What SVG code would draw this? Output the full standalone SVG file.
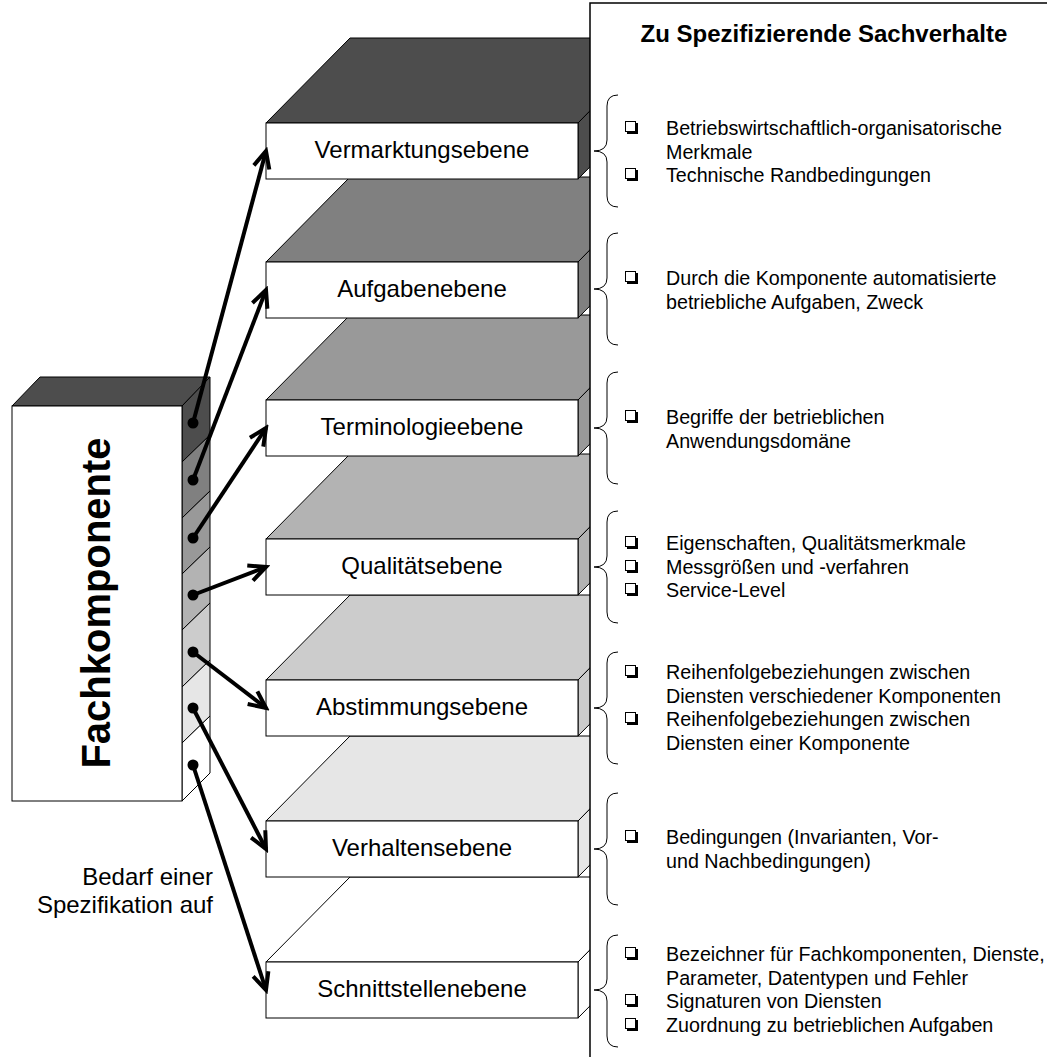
<svg xmlns="http://www.w3.org/2000/svg" xmlns:xlink="http://www.w3.org/1999/xlink" width="1047" height="1057" viewBox="0 0 1047 1057">
<style>
.o{stroke:#000;stroke-width:1;stroke-linejoin:miter}
.lbl{font-family:"Liberation Sans",Arial,sans-serif;font-size:24px;fill:#000;text-anchor:middle}
.t{font-family:"Liberation Sans",Arial,sans-serif;font-size:19.7px;fill:#000}
.ttl{font-family:"Liberation Sans",Arial,sans-serif;font-size:24px;font-weight:bold;fill:#000;text-anchor:middle}
.br{fill:none;stroke:#000;stroke-width:1}
.ar{fill:none;stroke:#000;stroke-width:4}
</style>
<defs>
<marker id="ah" markerUnits="userSpaceOnUse" markerWidth="24" markerHeight="24" viewBox="0 0 24 24" refX="20" refY="12" orient="auto">
<path d="M3,4 L20,12 L3,20" fill="none" stroke="#000" stroke-width="4" stroke-linejoin="miter"/>
</marker>
<g id="cb"><rect x="0.5" y="0.5" width="10" height="10" fill="#fff" stroke="#000" stroke-width="1"/><path d="M2,12 H12 V2" fill="none" stroke="#000" stroke-width="2"/></g>
</defs>
<rect width="1047" height="1057" fill="#fff"/>

<g id="layer7">
<polygon class="o" fill="#fff" points="266,962 350,877 662,877 578,962"/>
<polygon class="o" fill="#fff" points="578,962 662,877 662,933 578,1018"/>
<rect class="o" fill="#fff" x="266" y="962" width="312" height="56"/>
<text class="lbl" x="422" y="997">Schnittstellenebene</text>
</g>
<g id="layer6">
<polygon class="o" fill="#e6e6e6" points="266,821 350,736 662,736 578,821"/>
<polygon class="o" fill="#e6e6e6" points="578,821 662,736 662,792 578,877"/>
<rect class="o" fill="#fff" x="266" y="821" width="312" height="56"/>
<text class="lbl" x="422" y="856">Verhaltensebene</text>
</g>
<g id="layer5">
<polygon class="o" fill="#ccc" points="266,680 350,595 662,595 578,680"/>
<polygon class="o" fill="#ccc" points="578,680 662,595 662,651 578,736"/>
<rect class="o" fill="#fff" x="266" y="680" width="312" height="56"/>
<text class="lbl" x="422" y="715">Abstimmungsebene</text>
</g>
<g id="layer4">
<polygon class="o" fill="#b3b3b3" points="266,539 350,454 662,454 578,539"/>
<polygon class="o" fill="#b3b3b3" points="578,539 662,454 662,510 578,595"/>
<rect class="o" fill="#fff" x="266" y="539" width="312" height="56"/>
<text class="lbl" x="422" y="574">Qualitätsebene</text>
</g>
<g id="layer3">
<polygon class="o" fill="#999" points="266,400 350,315 662,315 578,400"/>
<polygon class="o" fill="#999" points="578,400 662,315 662,371 578,456"/>
<rect class="o" fill="#fff" x="266" y="400" width="312" height="56"/>
<text class="lbl" x="422" y="435">Terminologieebene</text>
</g>
<g id="layer2">
<polygon class="o" fill="#808080" points="266,262 350,177 662,177 578,262"/>
<polygon class="o" fill="#808080" points="578,262 662,177 662,233 578,318"/>
<rect class="o" fill="#fff" x="266" y="262" width="312" height="56"/>
<text class="lbl" x="422" y="297">Aufgabenebene</text>
</g>
<g id="layer1">
<polygon class="o" fill="#4d4d4d" points="266,123 350,38 662,38 578,123"/>
<polygon class="o" fill="#4d4d4d" points="578,123 662,38 662,94 578,179"/>
<rect class="o" fill="#fff" x="266" y="123" width="312" height="56"/>
<text class="lbl" x="422" y="158">Vermarktungsebene</text>
</g>

<g id="fachkomponente">
<polygon class="o" fill="#4d4d4d" points="12,406 40,377 210,377 182,406"/>
<polygon class="o" fill="#4d4d4d" points="182,406 210,377 210,435 182,462"/>
<polygon class="o" fill="#808080" points="182,462 210,435 210,491 182,518"/>
<polygon class="o" fill="#999" points="182,518 210,491 210,547 182,574"/>
<polygon class="o" fill="#b3b3b3" points="182,574 210,547 210,603 182,630"/>
<polygon class="o" fill="#ccc" points="182,630 210,603 210,660 182,687"/>
<polygon class="o" fill="#e6e6e6" points="182,687 210,660 210,716 182,743"/>
<polygon class="o" fill="#fff" points="182,743 210,716 210,773 182,801"/>
<rect class="o" fill="#fff" x="12" y="406" width="170" height="395"/>
<text transform="translate(110,603) rotate(-90)" style="font-family:'Liberation Sans',Arial,sans-serif;font-size:40px;font-weight:bold;text-anchor:middle">Fachkomponente</text>
</g>

<g id="caption">
<text class="t" x="213" y="885" style="font-size:24px;text-anchor:end">Bedarf einer</text>
<text class="t" x="213" y="913" style="font-size:24px;text-anchor:end">Spezifikation auf</text>
</g>

<g id="connectors">
<line class="ar" x1="193" y1="423" x2="266" y2="151" marker-end="url(#ah)"/>
<line class="ar" x1="193" y1="480" x2="266" y2="290" marker-end="url(#ah)"/>
<line class="ar" x1="193" y1="538" x2="266" y2="428" marker-end="url(#ah)"/>
<line class="ar" x1="193" y1="595" x2="266" y2="567" marker-end="url(#ah)"/>
<line class="ar" x1="193" y1="652" x2="266" y2="708" marker-end="url(#ah)"/>
<line class="ar" x1="193" y1="708" x2="266" y2="849" marker-end="url(#ah)"/>
<line class="ar" x1="193" y1="765" x2="266" y2="990" marker-end="url(#ah)"/>
<g fill="#000">
<circle cx="193" cy="423" r="5.5"/>
<circle cx="193" cy="480" r="5.5"/>
<circle cx="193" cy="538" r="5.5"/>
<circle cx="193" cy="595" r="5.5"/>
<circle cx="193" cy="652" r="5.5"/>
<circle cx="193" cy="708" r="5.5"/>
<circle cx="193" cy="765" r="5.5"/>
</g>
</g>

<g id="panel">
<rect x="590" y="3" width="520" height="1100" fill="#fff" stroke="#000" stroke-width="1.5"/>
<text class="ttl" x="824" y="42">Zu Spezifizierende Sachverhalte</text>
</g>

<g id="group1">
<path class="br" d="M618,95 Q607,95 607,106 L607,140 Q607,151 594,151 Q607,151 607,162 L607,196 Q607,207 618,207"/>
<use xlink:href="#cb" x="625" y="121"/>
<text class="t" x="666" y="135">Betriebswirtschaftlich-organisatorische</text>
<text class="t" x="666" y="158.5">Merkmale</text>
<use xlink:href="#cb" x="625" y="168"/>
<text class="t" x="666" y="182">Technische Randbedingungen</text>
</g>
<g id="group2">
<path class="br" d="M618,233 Q607,233 607,244 L607,278 Q607,289 594,289 Q607,289 607,300 L607,334 Q607,345 618,345"/>
<use xlink:href="#cb" x="625" y="271"/>
<text class="t" x="666" y="285">Durch die Komponente automatisierte</text>
<text class="t" x="666" y="308.5">betriebliche Aufgaben, Zweck</text>
</g>
<g id="group3">
<path class="br" d="M618,372 Q607,372 607,383 L607,417 Q607,428 594,428 Q607,428 607,439 L607,473 Q607,484 618,484"/>
<use xlink:href="#cb" x="625" y="410"/>
<text class="t" x="666" y="424">Begriffe der betrieblichen</text>
<text class="t" x="666" y="447.5">Anwendungsdomäne</text>
</g>
<g id="group4">
<path class="br" d="M618,511 Q607,511 607,522 L607,556 Q607,567 594,567 Q607,567 607,578 L607,612 Q607,623 618,623"/>
<use xlink:href="#cb" x="625" y="536"/>
<text class="t" x="666" y="550">Eigenschaften, Qualitätsmerkmale</text>
<use xlink:href="#cb" x="625" y="560"/>
<text class="t" x="666" y="574">Messgrößen und -verfahren</text>
<use xlink:href="#cb" x="625" y="583"/>
<text class="t" x="666" y="597">Service-Level</text>
</g>
<g id="group5">
<path class="br" d="M618,652 Q607,652 607,663 L607,697 Q607,708 594,708 Q607,708 607,719 L607,753 Q607,764 618,764"/>
<use xlink:href="#cb" x="625" y="665"/>
<text class="t" x="666" y="679">Reihenfolgebeziehungen zwischen</text>
<text class="t" x="666" y="703">Diensten verschiedener Komponenten</text>
<use xlink:href="#cb" x="625" y="712"/>
<text class="t" x="666" y="726">Reihenfolgebeziehungen zwischen</text>
<text class="t" x="666" y="750">Diensten einer Komponente</text>
</g>
<g id="group6">
<path class="br" d="M618,793 Q607,793 607,804 L607,838 Q607,849 594,849 Q607,849 607,860 L607,894 Q607,905 618,905"/>
<use xlink:href="#cb" x="625" y="830"/>
<text class="t" x="666" y="844">Bedingungen (Invarianten, Vor-</text>
<text class="t" x="666" y="868">und Nachbedingungen)</text>
</g>
<g id="group7">
<path class="br" d="M618,935 Q607,935 607,946 L607,979 Q607,990 594,990 Q607,990 607,1001 L607,1036 Q607,1047 618,1047"/>
<use xlink:href="#cb" x="625" y="947"/>
<text class="t" x="666" y="961">Bezeichner für Fachkomponenten, Dienste,</text>
<text class="t" x="666" y="985">Parameter, Datentypen und Fehler</text>
<use xlink:href="#cb" x="625" y="994"/>
<text class="t" x="666" y="1008">Signaturen von Diensten</text>
<use xlink:href="#cb" x="625" y="1018"/>
<text class="t" x="666" y="1032">Zuordnung zu betrieblichen Aufgaben</text>
</g>
</svg>
